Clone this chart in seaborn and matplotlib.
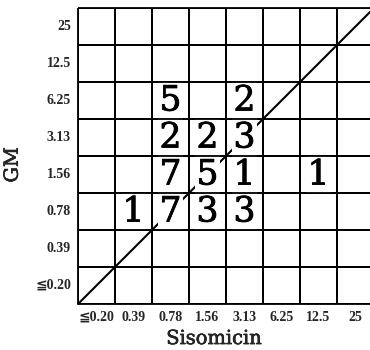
import numpy as np
import matplotlib
matplotlib.use("Agg")
import matplotlib.pyplot as plt
import matplotlib.patheffects as pe
from matplotlib.colors import ListedColormap
import seaborn as sns

# MIC classes (µg/ml) for each drug
sisomicin_mic = ["≦0.20", "0.39", "0.78", "1.56", "3.13", "6.25", "12.5", "25"]
gm_mic = ["≦0.20", "0.39", "0.78", "1.56", "3.13", "6.25", "12.5", "25"]

# number of strains per (GM row, Sisomicin column); rows listed from lowest MIC up
counts_by_gm = {
    "≦0.20": [0, 0, 0, 0, 0, 0, 0, 0],
    "0.39":  [0, 0, 0, 0, 0, 0, 0, 0],
    "0.78":  [0, 1, 7, 3, 3, 0, 0, 0],
    "1.56":  [0, 0, 7, 5, 1, 0, 1, 0],
    "3.13":  [0, 0, 2, 2, 3, 0, 0, 0],
    "6.25":  [0, 0, 5, 0, 2, 0, 0, 0],
    "12.5":  [0, 0, 0, 0, 0, 0, 0, 0],
    "25":    [0, 0, 0, 0, 0, 0, 0, 0],
}

# heatmap rows run top to bottom, so put the highest GM class first
rows = gm_mic[::-1]
grid = np.array([counts_by_gm[r] for r in rows])
labels = np.where(grid > 0, grid.astype(str), "")

sns.set_style("white")
plt.rcParams["font.family"] = ["DejaVu Serif", "DejaVu Sans"]

fig = plt.figure(figsize=(3.7, 3.5), dpi=100)
ax = fig.add_axes([78 / 370, 1 - 304 / 350, 296 / 370, 296 / 350])

sns.heatmap(
    grid, ax=ax, cmap=ListedColormap(["white"]), cbar=False,
    linewidths=1.3, linecolor="black",
    annot=labels, fmt="",
    annot_kws=dict(fontsize=25, color="black",
                   bbox=dict(facecolor="white", edgecolor="none", pad=1.0),
                   path_effects=[pe.withStroke(linewidth=0.6, foreground="black")]),
    xticklabels=sisomicin_mic, yticklabels=rows,
)

n = len(sisomicin_mic)
# line of equal MIC, passing under the count labels
ax.plot([0, n], [n, 0], color="black", lw=1.5, zorder=2, clip_on=False)
# cell borders redrawn above the label backgrounds
ax.hlines(np.arange(n + 1), 0, n, color="black", lw=1.3, zorder=5, clip_on=False)
ax.vlines(np.arange(n + 1), 0, n, color="black", lw=1.3, zorder=5, clip_on=False)

ax.tick_params(axis="both", length=0)
ax.tick_params(axis="x", pad=5)
ax.tick_params(axis="y", pad=5)
for t in ax.get_xticklabels() + ax.get_yticklabels():
    t.set_fontsize(10)
    t.set_fontweight("bold")
    t.set_family(["Liberation Serif", "DejaVu Sans"])
plt.setp(ax.get_xticklabels(), rotation=0)
plt.setp(ax.get_yticklabels(), rotation=0)

ax.set_xlabel("Sisomicin", fontsize=14,
              path_effects=[pe.withStroke(linewidth=0.4, foreground="black")])
ax.set_ylabel("GM", fontsize=14,
              path_effects=[pe.withStroke(linewidth=0.4, foreground="black")])
ax.xaxis.set_label_coords(0.46, -0.088)
ax.yaxis.set_label_coords(-0.19, 0.47)

fig.savefig("out.png", dpi=100)
